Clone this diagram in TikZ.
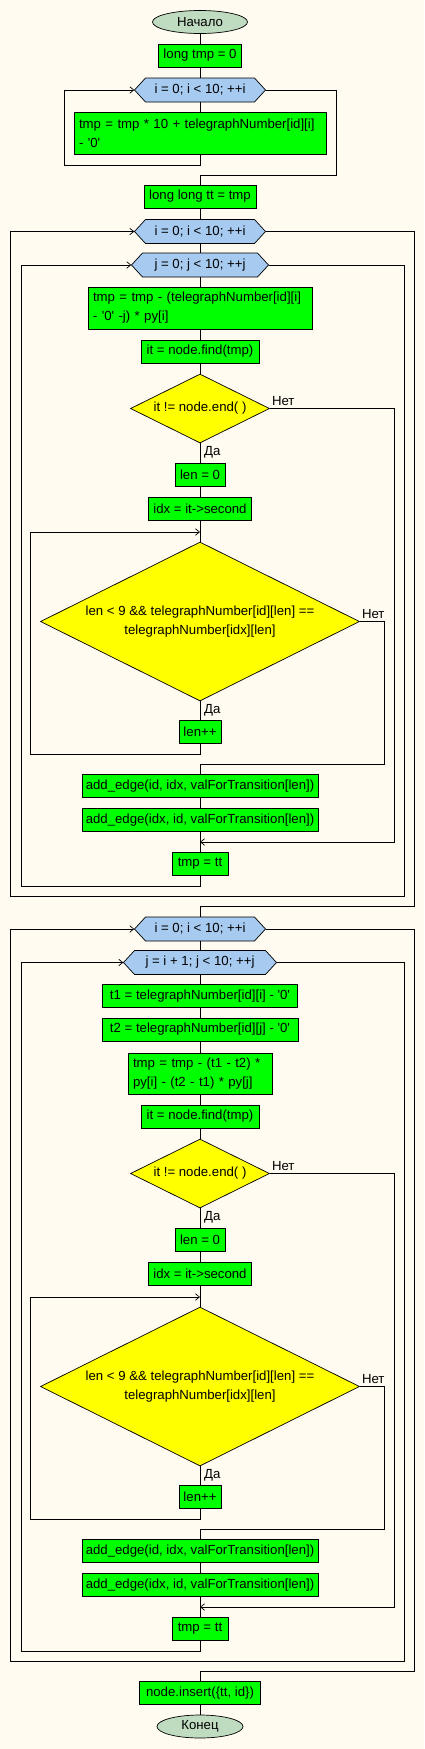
\documentclass[tikz,border=0pt]{standalone}
\usepackage{fontspec}
\setmainfont{Liberation Sans}
\usetikzlibrary{shapes.geometric,arrows.meta}
\definecolor{bgc}{HTML}{FFFBF0}
\definecolor{boxg}{HTML}{00FF00}
\definecolor{diac}{HTML}{FFFF00}
\definecolor{hexc}{HTML}{A6CAF0}
\definecolor{termc}{HTML}{C0DCC0}
\tikzset{
 every node/.style={font=\fontsize{13.2}{19}\selectfont},
 proc/.style={draw=black, fill=boxg, line width=0.8pt, inner sep=0pt, minimum height=23pt},
 proctwo/.style={draw=black, fill=boxg, line width=0.8pt, inner xsep=5pt, inner ysep=0pt, align=left, minimum height=42pt},
 term/.style={ellipse, draw=black, fill=termc, line width=0.7pt, inner sep=0pt, minimum height=23pt},
 dec/.style={diamond, draw=black, fill=diac, line width=0.7pt, aspect=2, inner sep=0pt, align=center},
 hextxt/.style={inner sep=0pt, minimum height=24pt},
 hexshape/.style={draw=black, fill=hexc, line width=0.7pt},
 conn/.style={line width=0.8pt},
 arr/.style={line width=0.8pt, -{Straight Barb[length=4pt,width=6.5pt,line width=0.7pt]}},
 lbl/.style={inner sep=0pt, anchor=base west},
}
\newcommand\myhex[5]{%
 \path[hexshape] ({#2-#4/2},#3) -- ({#2-#4/2+11},{#3-12}) -- ({#2+#4/2-11},{#3-12}) -- ({#2+#4/2},#3) -- ({#2+#4/2-11},{#3+12}) -- ({#2-#4/2+11},{#3+12}) -- cycle;
 \node[hextxt, minimum width=#4pt] (#1) at (#2,#3) {#5};
}
\newcommand\q{\textquotesingle}
\begin{document}
\begin{tikzpicture}[x=1pt,y=-1pt]
\fill[bgc] (0,0) rectangle (424,1749);
\useasboundingbox (0,0) rectangle (424,1749);
% ---------- block A ----------
\node[term, minimum width=95pt] (start) at (200,22) {Начало};
\node[proc, minimum width=83pt] (n1) at (200,55.5) {long tmp = 0};
\myhex{h1}{200}{90}{131}{i = 0; i < 10; ++i}
\node[proctwo, text width=242pt] (n2) at (200,133) {tmp = tmp * 10 + telegraphNumber[id][i]\\- \q 0\q};
\node[proc, minimum width=112pt] (n3) at (200,196.5) {long long tt = tmp};
\myhex{h2}{200}{231.5}{131}{i = 0; i < 10; ++i}
\myhex{h3}{200}{265}{137}{j = 0; j < 10; ++j}
\node[proctwo, text width=214pt] (n4) at (200,308) {tmp = tmp - (telegraphNumber[id][i]\\- \q 0\q{} -j) * py[i]};
\node[proc, minimum width=118pt] (n5) at (200,351.5) {it = node.find(tmp)};
\node[dec, minimum width=139pt, minimum height=69pt] (d1) at (200,408.5) {it != node.end( )};
\node[proc, minimum width=50pt] (n6) at (200,474.5) {len = 0};
\node[proc, minimum width=103pt] (n7) at (200,508.5) {idx = it->second};
\coordinate (m1) at (200,532);
\node[dec, minimum width=319pt, minimum height=159pt] (d2) at (200,621.5) {len < 9 \&\& telegraphNumber[id][len] ==\\telegraphNumber[idx][len]};
\node[proc, minimum width=42pt] (n8) at (200,732) {len++};
\node[proc, minimum width=236pt] (n9) at (200,786) {add\_edge(id, idx, valForTransition[len])};
\node[proc, minimum width=236pt] (n10) at (200,820) {add\_edge(idx, id, valForTransition[len])};
\coordinate (m2) at (200,842);
\node[proc, minimum width=56pt] (n11) at (200,863.5) {tmp = tt};
\node[lbl] (l1) at ([shift={(2,-3)}]d1.east) {Нет};
\node[lbl] (l2) at ([shift={(4,12.5)}]d1.south) {Да};
\node[lbl] (l3) at ([shift={(2,-3)}]d2.east) {Нет};
\node[lbl] (l4) at ([shift={(4,12.5)}]d2.south) {Да};
\coordinate (c1) at (64,165);
\coordinate (c2) at (336,175);
\coordinate (c3) at (30,754);
\coordinate (c5) at (384,764);
\coordinate (c6) at (394,842);
\coordinate (c7) at (21,886);
\coordinate (c8) at (404,896);
\coordinate (m3) at (200,896);
\coordinate (c9) at (10,896);
\coordinate (c10) at (414,906);
% ---------- block B ----------
\myhex{h4}{200}{929}{131}{i = 0; i < 10; ++i}
\myhex{h5}{200}{962.5}{153}{j = i + 1; j < 10; ++j}
\node[proc, minimum width=195pt] (n12) at (200,996) {t1 = telegraphNumber[id][i] - \q 0\q};
\node[proc, minimum width=196pt] (n13) at (200,1029.5) {t2 = telegraphNumber[id][j] - \q 0\q};
\node[proctwo, text width=134pt, minimum height=41pt] (n14) at (200,1073.5) {tmp = tmp - (t1 - t2) *\\py[i] - (t2 - t1) * py[j]};
\node[proc, minimum width=118pt] (n15) at (200,1116.5) {it = node.find(tmp)};
\node[dec, minimum width=139pt, minimum height=69pt] (d3) at (200,1173.5) {it != node.end( )};
\node[proc, minimum width=50pt] (n16) at (200,1239.5) {len = 0};
\node[proc, minimum width=103pt] (n17) at (200,1273.5) {idx = it->second};
\coordinate (m4) at (200,1297);
\node[dec, minimum width=319pt, minimum height=159pt] (d4) at (200,1386.5) {len < 9 \&\& telegraphNumber[id][len] ==\\telegraphNumber[idx][len]};
\node[proc, minimum width=42pt] (n18) at (200,1497) {len++};
\node[proc, minimum width=236pt] (n19) at (200,1551) {add\_edge(id, idx, valForTransition[len])};
\node[proc, minimum width=236pt] (n20) at (200,1585) {add\_edge(idx, id, valForTransition[len])};
\coordinate (m5) at (200,1607);
\node[proc, minimum width=56pt] (n21) at (200,1628.5) {tmp = tt};
\node[proc, minimum width=121pt] (n22) at (200,1693) {node.insert(\{tt, id\})};
\node[term, minimum width=86pt] (stop) at (200,1726.5) {Конец};
\node[lbl] (l5) at ([shift={(2,-3)}]d3.east) {Нет};
\node[lbl] (l6) at ([shift={(4,12.5)}]d3.south) {Да};
\node[lbl] (l7) at ([shift={(2,-3)}]d4.east) {Нет};
\node[lbl] (l8) at ([shift={(4,12.5)}]d4.south) {Да};
\coordinate (c11) at (30,1519);
\coordinate (c12) at (384,1529);
\coordinate (c13) at (394,1607);
\coordinate (c14) at (21,1651);
\coordinate (c15) at (404,1661);
\coordinate (m6) at (200,1661);
\coordinate (c16) at (10,1661);
\coordinate (c17) at (414,1671);
% ---------- connectors A ----------
\draw[conn] (start) -- (n1);
\draw[conn] (n1) -- (h1);
\draw[conn] (h1) -- (n2);
\draw[arr] (n2.south) |- (c1) |- (h1.west);
\draw[conn] (h1.east) -| (c2) -| (n3.north);
\draw[conn] (n3) -- (h2);
\draw[conn] (h2) -- (h3);
\draw[conn] (h3) -- (n4);
\draw[conn] (n4) -- (n5);
\draw[conn] (n5) -- (d1);
\draw[conn] (d1) -- (n6);
\draw[conn] (n6) -- (n7);
\draw[conn] (n7) -- (d2);
\draw[arr] (n8.south) |- (c3) |- (m1);
\draw[conn] (d2) -- (n8);
\draw[conn] (d2.east) -| (c5) -| (n9.north);
\draw[conn] (n9) -- (n10);
\draw[conn] (n10) -- (n11);
\draw[arr] (d1.east) -| (c6) -- (m2);
\draw[arr] (n11.south) |- (c7) |- (h3.west);
\draw[conn] (h3.east) -| (c8) -- (m3);
\draw[arr] (m3) -- (c9) |- (h2.west);
\draw[conn] (h2.east) -| (c10) -| (h4.north);
% ---------- connectors B ----------
\draw[conn] (h4) -- (h5);
\draw[conn] (h5) -- (n12);
\draw[conn] (n12) -- (n13);
\draw[conn] (n13) -- (n14);
\draw[conn] (n14) -- (n15);
\draw[conn] (n15) -- (d3);
\draw[conn] (d3) -- (n16);
\draw[conn] (n16) -- (n17);
\draw[conn] (n17) -- (d4);
\draw[arr] (n18.south) |- (c11) |- (m4);
\draw[conn] (d4) -- (n18);
\draw[conn] (d4.east) -| (c12) -| (n19.north);
\draw[conn] (n19) -- (n20);
\draw[conn] (n20) -- (n21);
\draw[arr] (d3.east) -| (c13) -- (m5);
\draw[arr] (n21.south) |- (c14) |- (h5.west);
\draw[conn] (h5.east) -| (c15) -- (m6);
\draw[arr] (m6) -- (c16) |- (h4.west);
\draw[conn] (h4.east) -| (c17) -| (n22.north);
\draw[conn] (n22) -- (stop);
\end{tikzpicture}
\end{document}
